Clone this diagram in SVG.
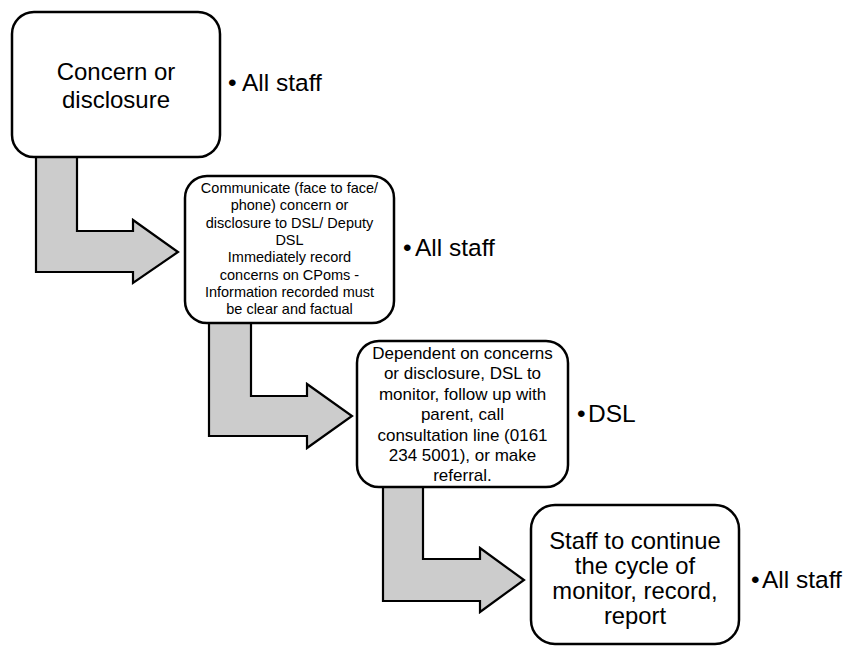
<svg xmlns="http://www.w3.org/2000/svg" width="845" height="648" viewBox="0 0 845 648">
<style>
.box{fill:#ffffff;stroke:#000000;stroke-width:2.5}
.arr{fill:#cccccc;stroke:#000000;stroke-width:2.2;stroke-linejoin:miter}
text{font-family:"Liberation Sans",Arial,sans-serif;fill:#000000}
.c{text-anchor:middle}
.lbl{font-size:24.5px}
</style>
<rect width="845" height="648" fill="#ffffff"/>
<g id="connectors">
<path class="arr" d="M36,157 L77,157 L77,231 L133,231 L133,220 L178,252 L133,283 L133,272 L36,272 Z"/>
<path class="arr" d="M209,323 L251,323 L251,396 L307,396 L307,384 L352,416 L307,448 L307,436 L209,436 Z"/>
<path class="arr" d="M383,487 L423,487 L423,559 L480,559 L480,548 L524,580 L480,612 L480,601 L383,601 Z"/>
</g>
<g id="node1">
<rect class="box" x="12" y="12" width="208" height="145" rx="22"/>
<text class="c" font-size="24" x="116"><tspan x="116" y="80">Concern or</tspan><tspan x="116" y="108">disclosure</tspan></text>
</g>
<g id="label1"><text class="lbl" y="91"><tspan x="228">•</tspan><tspan x="242">All staff</tspan></text></g>
<g id="node2">
<rect class="box" x="185" y="176" width="209" height="147" rx="22"/>
<text class="c" font-size="14.5"><tspan x="289.5" y="193">Communicate (face to face/</tspan><tspan x="289.5" y="210.3">phone) concern or</tspan><tspan x="289.5" y="227.6">disclosure to DSL/ Deputy</tspan><tspan x="289.5" y="244.9">DSL</tspan><tspan x="289.5" y="262.2">Immediately record</tspan><tspan x="289.5" y="279.5">concerns on CPoms -</tspan><tspan x="289.5" y="296.8">Information recorded must</tspan><tspan x="289.5" y="314">be clear and factual</tspan></text>
</g>
<g id="label2"><text class="lbl" y="256"><tspan x="403">•</tspan><tspan x="415">All staff</tspan></text></g>
<g id="node3">
<rect class="box" x="357" y="341" width="211" height="146" rx="22"/>
<text class="c" font-size="17"><tspan x="462.5" y="359">Dependent on concerns</tspan><tspan x="462.5" y="379.4">or disclosure, DSL to</tspan><tspan x="462.5" y="399.8">monitor, follow up with</tspan><tspan x="462.5" y="420.2">parent, call</tspan><tspan x="462.5" y="440.6">consultation line (0161</tspan><tspan x="462.5" y="461">234 5001), or make</tspan><tspan x="462.5" y="481.4">referral.</tspan></text>
</g>
<g id="label3"><text class="lbl" y="422"><tspan x="577">•</tspan><tspan x="588">DSL</tspan></text></g>
<g id="node4">
<rect class="box" x="531" y="505" width="208" height="139" rx="24"/>
<text class="c" font-size="23.8"><tspan x="635" y="549">Staff to continue</tspan><tspan x="635" y="574">the cycle of</tspan><tspan x="635" y="599">monitor, record,</tspan><tspan x="635" y="624">report</tspan></text>
</g>
<g id="label4"><text class="lbl" y="588"><tspan x="751">•</tspan><tspan x="762">All staff</tspan></text></g>
</svg>
